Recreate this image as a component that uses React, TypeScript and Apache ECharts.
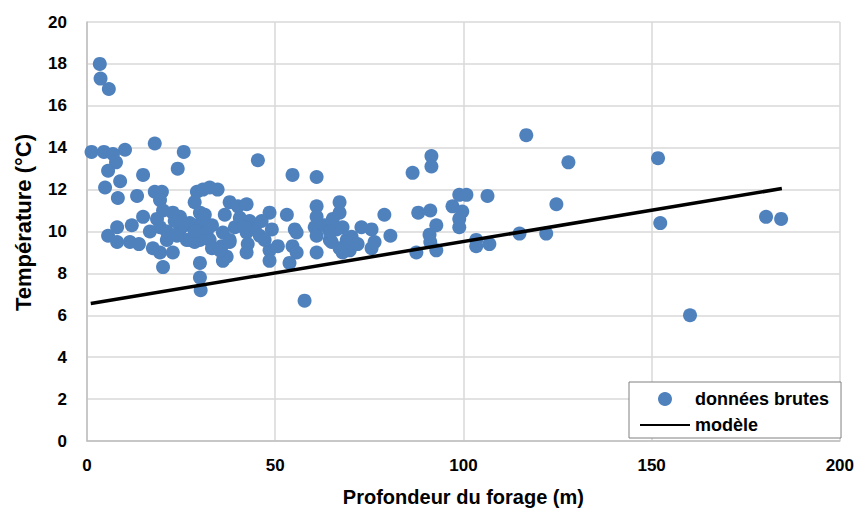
import React, { useEffect, useRef } from "react";
import * as echarts from "echarts";

// Borehole depth (m) and measured temperature (°C), raw readings
const depths = [
  3.4, 3.6, 5.8,
  1.2, 4.5, 10.1, 6.9, 7.7, 5.6, 18.0, 25.7, 24.1, 14.9, 8.8, 4.8, 8.2, 13.3,
  18.0, 19.9, 19.4, 20.2, 14.9, 11.9, 8.0, 5.6, 8.0, 11.4, 13.8, 16.7, 17.5,
  19.4, 22.8, 20.2, 18.6, 19.4, 24.7, 24.7, 26.5, 23.9, 21.2, 28.6, 29.2, 28.6,
  30.0, 30.0, 30.2,
  45.4, 54.6, 30.8, 32.6, 34.7, 37.9, 40.1, 42.4, 48.5, 53.1, 30.0, 30.5, 27.3,
  29.2, 31.8, 30.0, 36.1, 39.3, 43.2, 44.6, 45.9, 42.4, 35.8, 37.9, 37.1, 36.1,
  42.4, 42.7, 48.5, 48.5, 50.7, 53.8, 55.2, 55.7, 54.6, 55.7, 57.8,
  31.3, 33.2, 27.3, 26.0, 28.6, 32.6, 36.6, 40.6, 46.4, 49.1, 47.2, 41.9, 37.9,
  35.3, 33.2, 22.8, 21.2, 23.3,
  61.0, 86.5, 61.0, 61.0, 60.5, 61.0, 61.0, 67.1, 67.1, 65.3, 67.9, 66.3, 64.5,
  69.0, 69.8, 67.9, 72.9, 75.6, 76.4, 75.6, 79.0, 80.6, 88.0, 87.5, 65.0,
  63.1, 64.5, 70.3, 71.9, 67.1,
  116.7, 91.5, 91.5, 98.9, 100.8, 106.4, 97.1, 99.7, 98.9, 98.9, 91.2, 92.8,
  91.0, 91.2, 92.8, 103.4, 103.4, 106.9, 114.9,
  127.9, 124.7, 122.0,
  151.7, 152.3, 160.2, 180.4, 184.4,
];
const temperatures = [
  18.0, 17.3, 16.8,
  13.8, 13.8, 13.9, 13.7, 13.3, 12.9, 14.2, 13.8, 13.0, 12.7, 12.4, 12.1, 11.6, 11.7,
  11.9, 11.9, 11.5, 11.0, 10.7, 10.3, 10.2, 9.8, 9.5, 9.5, 9.4, 10.0, 9.2,
  9.0, 9.0, 8.3, 10.6, 10.2, 10.7, 10.1, 9.6, 9.8, 9.6, 11.4, 11.9, 9.5,
  8.5, 7.8, 7.2,
  13.4, 12.7, 12.0, 12.1, 12.0, 11.4, 11.2, 11.3, 10.9, 10.8, 10.9, 10.5, 10.4,
  10.1, 9.95, 9.6, 9.95, 10.2, 10.5, 10.1, 9.8, 9.95, 9.3, 9.5, 8.8, 8.6,
  9.0, 9.4, 9.1, 8.6, 9.3, 8.5, 10.1, 9.95, 9.3, 9.0, 6.7,
  10.8, 10.3, 9.6, 10.3, 10.0, 9.6, 10.8, 10.65, 10.5, 10.1, 9.6, 10.2, 9.6,
  9.1, 9.2, 10.9, 10.0, 10.5,
  12.6, 12.8, 11.2, 10.7, 10.2, 9.8, 9.0, 11.4, 10.9, 10.6, 10.2, 10.1, 9.6,
  9.6, 9.1, 9.0, 10.2, 10.1, 9.5, 9.2, 10.8, 9.8, 10.9, 9.0, 9.5,
  10.3, 10.0, 9.75, 9.4, 9.2,
  14.6, 13.6, 13.1, 11.75, 11.75, 11.7, 11.2, 10.95, 10.6, 10.2, 11.0, 10.3,
  9.85, 9.5, 9.1, 9.6, 9.3, 9.4, 9.9,
  13.3, 11.3, 9.9,
  13.5, 10.4, 6.0, 10.7, 10.6,
];

// Fitted model: end points of the regression line (depth, temperature)
const modelDepths = [1.0, 184.6];
const modelTemperatures = [6.56, 12.05];

const xTicks = { min: 0, max: 200, interval: 50 };
const yTicks = { min: 0, max: 20, interval: 2 };

const FONT = "'Liberation Sans', Arial, sans-serif";

export default function App() {
  const ref = useRef<HTMLDivElement>(null);

  useEffect(() => {
    document.body.style.margin = "0";
    if (!ref.current) return;
    const chart = echarts.init(ref.current, null, { renderer: "svg" });

    const rawData = depths.map((d, i) => [d, temperatures[i]]);
    const modelData = modelDepths.map((d, i) => [d, modelTemperatures[i]]);

    const gridLine = { show: true, lineStyle: { color: "#d9d9d9", width: 1.5 } };
    const axisLine = { show: true, lineStyle: { color: "#bfbfbf", width: 1.5 } };

    chart.setOption({
      animation: false,
      backgroundColor: "#ffffff",
      textStyle: { fontFamily: FONT },
      grid: { left: 87, right: 16, top: 22, bottom: 76, containLabel: false },
      xAxis: {
        type: "value",
        min: xTicks.min,
        max: xTicks.max,
        interval: xTicks.interval,
        name: "Profondeur du forage (m)",
        nameLocation: "middle",
        nameGap: 46,
        nameTextStyle: { fontFamily: FONT, fontWeight: "bold", fontSize: 20, color: "#000" },
        axisLine,
        axisTick: { show: false },
        splitLine: gridLine,
        axisLabel: { fontFamily: FONT, fontWeight: "bold", fontSize: 17, color: "#000", margin: 16 },
      },
      yAxis: {
        type: "value",
        min: yTicks.min,
        max: yTicks.max,
        interval: yTicks.interval,
        name: "Température (°C)",
        nameLocation: "middle",
        nameGap: 53,
        nameTextStyle: {
          fontFamily: FONT,
          fontWeight: "bold",
          fontSize: 22,
          color: "#000",
          padding: [0, 0, 0, 18],
        },
        axisLine,
        axisTick: { show: false },
        splitLine: gridLine,
        axisLabel: { fontFamily: FONT, fontWeight: "bold", fontSize: 17, color: "#000", margin: 20 },
      },
      legend: {
        left: 629,
        top: 382,
        orient: "vertical",
        backgroundColor: "#ffffff",
        borderColor: "#808080",
        borderWidth: 1,
        borderRadius: 0,
        padding: [8, 12, 4, 10],
        itemGap: 8,
        itemWidth: 50,
        itemHeight: 14,
        textStyle: { fontFamily: FONT, fontWeight: "bold", fontSize: 18, color: "#000" },
        data: [
          { name: "données brutes", icon: "circle" },
          { name: "modèle", itemStyle: { opacity: 0 } },
        ],
      },
      series: [
        {
          name: "données brutes",
          type: "scatter",
          data: rawData,
          symbol: "circle",
          symbolSize: 14,
          itemStyle: { color: "#4F81BD", opacity: 1 },
          z: 2,
        },
        {
          name: "modèle",
          type: "line",
          data: modelData,
          symbol: "none",
          lineStyle: { color: "#000000", width: 3.5 },
          itemStyle: { color: "#000000" },
          z: 3,
        },
      ],
    });

    return () => chart.dispose();
  }, []);

  return <div ref={ref} style={{ width: 857, height: 517 }} />;
}
